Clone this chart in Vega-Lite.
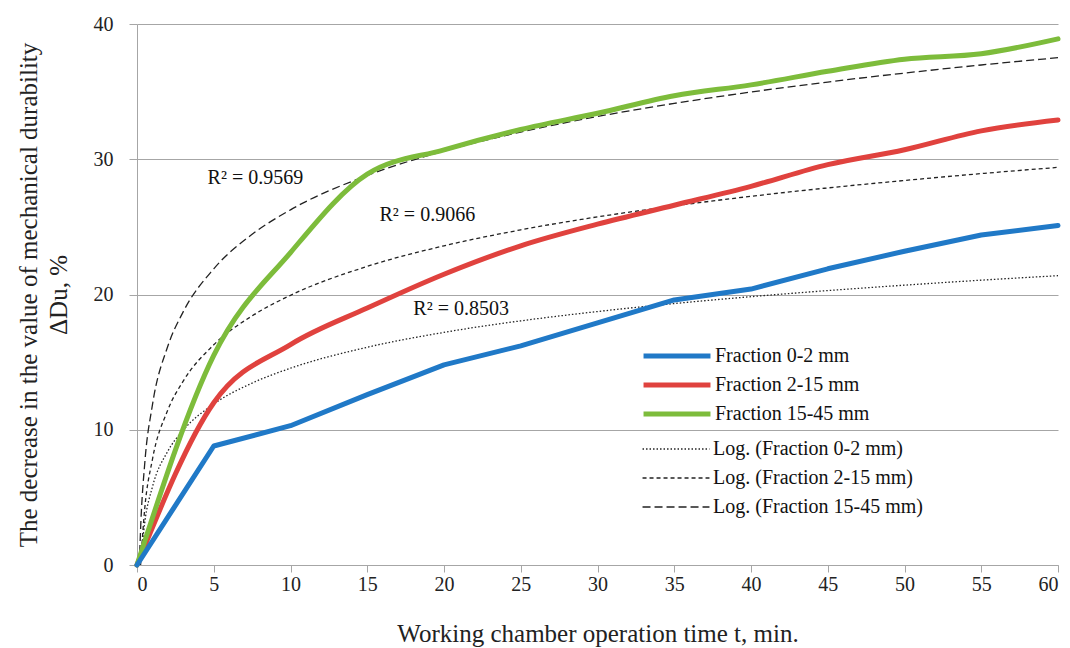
{
  "$schema": "https://vega.github.io/schema/vega-lite/v6.json",
  "autosize": {"type": "none"},
  "padding": {"left": 137, "top": 24, "right": 12, "bottom": 83},
  "width": 921,
  "height": 541,
  "background": "white",
  "config": {
    "font": "Liberation Serif",
    "view": {"stroke": null},
    "axis": {"labelFont": "Liberation Serif", "titleFont": "Liberation Serif", "labelFontSize": 20, "titleFontSize": 25, "titleFontWeight": "normal", "labelColor": "#222", "titleColor": "#222", "domainColor": "#a6a6a6", "tickColor": "#a6a6a6", "gridColor": "#a6a6a6"},
    "legend": {"labelFont": "Liberation Serif", "labelFontSize": 20, "labelColor": "#111", "labelLimit": 400}
  },
  "datasets": {
    "main": [
      {"t": 0, "v": 0, "s": "Fraction 0-2 mm"},
      {"t": 5, "v": 8.8, "s": "Fraction 0-2 mm"},
      {"t": 10, "v": 10.3, "s": "Fraction 0-2 mm"},
      {"t": 15, "v": 12.6, "s": "Fraction 0-2 mm"},
      {"t": 20, "v": 14.8, "s": "Fraction 0-2 mm"},
      {"t": 25, "v": 16.2, "s": "Fraction 0-2 mm"},
      {"t": 30, "v": 17.9, "s": "Fraction 0-2 mm"},
      {"t": 35, "v": 19.6, "s": "Fraction 0-2 mm"},
      {"t": 40, "v": 20.4, "s": "Fraction 0-2 mm"},
      {"t": 45, "v": 21.9, "s": "Fraction 0-2 mm"},
      {"t": 50, "v": 23.2, "s": "Fraction 0-2 mm"},
      {"t": 55, "v": 24.4, "s": "Fraction 0-2 mm"},
      {"t": 60, "v": 25.1, "s": "Fraction 0-2 mm"},
      {"t": 0, "v": 0, "s": "Fraction 2-15 mm"},
      {"t": 5, "v": 12.0, "s": "Fraction 2-15 mm"},
      {"t": 10, "v": 16.3, "s": "Fraction 2-15 mm"},
      {"t": 15, "v": 19.0, "s": "Fraction 2-15 mm"},
      {"t": 20, "v": 21.5, "s": "Fraction 2-15 mm"},
      {"t": 25, "v": 23.6, "s": "Fraction 2-15 mm"},
      {"t": 30, "v": 25.2, "s": "Fraction 2-15 mm"},
      {"t": 35, "v": 26.6, "s": "Fraction 2-15 mm"},
      {"t": 40, "v": 28.0, "s": "Fraction 2-15 mm"},
      {"t": 45, "v": 29.6, "s": "Fraction 2-15 mm"},
      {"t": 50, "v": 30.7, "s": "Fraction 2-15 mm"},
      {"t": 55, "v": 32.1, "s": "Fraction 2-15 mm"},
      {"t": 60, "v": 32.9, "s": "Fraction 2-15 mm"},
      {"t": 0, "v": 0, "s": "Fraction 15-45 mm"},
      {"t": 5, "v": 15.5, "s": "Fraction 15-45 mm"},
      {"t": 10, "v": 23.1, "s": "Fraction 15-45 mm"},
      {"t": 15, "v": 28.9, "s": "Fraction 15-45 mm"},
      {"t": 20, "v": 30.7, "s": "Fraction 15-45 mm"},
      {"t": 25, "v": 32.2, "s": "Fraction 15-45 mm"},
      {"t": 30, "v": 33.4, "s": "Fraction 15-45 mm"},
      {"t": 35, "v": 34.7, "s": "Fraction 15-45 mm"},
      {"t": 40, "v": 35.5, "s": "Fraction 15-45 mm"},
      {"t": 45, "v": 36.5, "s": "Fraction 15-45 mm"},
      {"t": 50, "v": 37.4, "s": "Fraction 15-45 mm"},
      {"t": 55, "v": 37.8, "s": "Fraction 15-45 mm"},
      {"t": 60, "v": 38.9, "s": "Fraction 15-45 mm"}
    ],
    "trend": [
      {"t": 0.22, "v": 0, "s": "Log. (Fraction 0-2 mm)"},
      {"t": 0.5, "v": 3.1, "s": "Log. (Fraction 0-2 mm)"},
      {"t": 1, "v": 5.75, "s": "Log. (Fraction 0-2 mm)"},
      {"t": 2, "v": 8.4, "s": "Log. (Fraction 0-2 mm)"},
      {"t": 3, "v": 9.95, "s": "Log. (Fraction 0-2 mm)"},
      {"t": 5, "v": 11.9, "s": "Log. (Fraction 0-2 mm)"},
      {"t": 7.5, "v": 13.45, "s": "Log. (Fraction 0-2 mm)"},
      {"t": 10, "v": 14.55, "s": "Log. (Fraction 0-2 mm)"},
      {"t": 15, "v": 16.1, "s": "Log. (Fraction 0-2 mm)"},
      {"t": 20, "v": 17.2, "s": "Log. (Fraction 0-2 mm)"},
      {"t": 25, "v": 18.05, "s": "Log. (Fraction 0-2 mm)"},
      {"t": 30, "v": 18.74, "s": "Log. (Fraction 0-2 mm)"},
      {"t": 35, "v": 19.33, "s": "Log. (Fraction 0-2 mm)"},
      {"t": 40, "v": 19.84, "s": "Log. (Fraction 0-2 mm)"},
      {"t": 45, "v": 20.29, "s": "Log. (Fraction 0-2 mm)"},
      {"t": 50, "v": 20.69, "s": "Log. (Fraction 0-2 mm)"},
      {"t": 55, "v": 21.06, "s": "Log. (Fraction 0-2 mm)"},
      {"t": 60, "v": 21.39, "s": "Log. (Fraction 0-2 mm)"},
      {"t": 0.23, "v": 0, "s": "Log. (Fraction 2-15 mm)"},
      {"t": 0.5, "v": 4.12, "s": "Log. (Fraction 2-15 mm)"},
      {"t": 1, "v": 7.78, "s": "Log. (Fraction 2-15 mm)"},
      {"t": 2, "v": 11.44, "s": "Log. (Fraction 2-15 mm)"},
      {"t": 3, "v": 13.58, "s": "Log. (Fraction 2-15 mm)"},
      {"t": 5, "v": 16.28, "s": "Log. (Fraction 2-15 mm)"},
      {"t": 7.5, "v": 18.42, "s": "Log. (Fraction 2-15 mm)"},
      {"t": 10, "v": 19.94, "s": "Log. (Fraction 2-15 mm)"},
      {"t": 15, "v": 22.08, "s": "Log. (Fraction 2-15 mm)"},
      {"t": 20, "v": 23.6, "s": "Log. (Fraction 2-15 mm)"},
      {"t": 25, "v": 24.78, "s": "Log. (Fraction 2-15 mm)"},
      {"t": 30, "v": 25.74, "s": "Log. (Fraction 2-15 mm)"},
      {"t": 35, "v": 26.55, "s": "Log. (Fraction 2-15 mm)"},
      {"t": 40, "v": 27.26, "s": "Log. (Fraction 2-15 mm)"},
      {"t": 45, "v": 27.88, "s": "Log. (Fraction 2-15 mm)"},
      {"t": 50, "v": 28.43, "s": "Log. (Fraction 2-15 mm)"},
      {"t": 55, "v": 28.94, "s": "Log. (Fraction 2-15 mm)"},
      {"t": 60, "v": 29.4, "s": "Log. (Fraction 2-15 mm)"},
      {"t": 0.15, "v": 0, "s": "Log. (Fraction 15-45 mm)"},
      {"t": 0.25, "v": 3.1, "s": "Log. (Fraction 15-45 mm)"},
      {"t": 0.5, "v": 7.45, "s": "Log. (Fraction 15-45 mm)"},
      {"t": 1, "v": 11.8, "s": "Log. (Fraction 15-45 mm)"},
      {"t": 2, "v": 16.15, "s": "Log. (Fraction 15-45 mm)"},
      {"t": 3, "v": 18.7, "s": "Log. (Fraction 15-45 mm)"},
      {"t": 5, "v": 21.9, "s": "Log. (Fraction 15-45 mm)"},
      {"t": 7.5, "v": 24.45, "s": "Log. (Fraction 15-45 mm)"},
      {"t": 10, "v": 26.26, "s": "Log. (Fraction 15-45 mm)"},
      {"t": 15, "v": 28.8, "s": "Log. (Fraction 15-45 mm)"},
      {"t": 20, "v": 30.61, "s": "Log. (Fraction 15-45 mm)"},
      {"t": 25, "v": 32.01, "s": "Log. (Fraction 15-45 mm)"},
      {"t": 30, "v": 33.16, "s": "Log. (Fraction 15-45 mm)"},
      {"t": 35, "v": 34.13, "s": "Log. (Fraction 15-45 mm)"},
      {"t": 40, "v": 34.97, "s": "Log. (Fraction 15-45 mm)"},
      {"t": 45, "v": 35.71, "s": "Log. (Fraction 15-45 mm)"},
      {"t": 50, "v": 36.37, "s": "Log. (Fraction 15-45 mm)"},
      {"t": 55, "v": 36.97, "s": "Log. (Fraction 15-45 mm)"},
      {"t": 60, "v": 37.51, "s": "Log. (Fraction 15-45 mm)"}
    ],
    "labels": [
      {"t": 4.6, "v": 28.6, "label": "R² = 0.9569"},
      {"t": 15.8, "v": 25.9, "label": "R² = 0.9066"},
      {"t": 18.0, "v": 18.9, "label": "R² = 0.8503"}
    ]
  },
  "layer": [
    {
      "data": {"name": "trend"},
      "mark": {"type": "line", "color": "#222", "strokeWidth": 1.3, "interpolate": "monotone"},
      "encoding": {
        "x": {"field": "t", "type": "quantitative", "scale": {"domain": [0, 60], "nice": false},
          "axis": {"title": "Working chamber operation time t, min.", "values": [0,5,10,15,20,25,30,35,40,45,50,55,60], "grid": false, "tickSize": 7, "labelPadding": 2, "titlePadding": 27}},
        "y": {"field": "v", "type": "quantitative", "scale": {"domain": [0, 40], "nice": false},
          "axis": {"title": ["The decrease in the value of mechanical durability", "ΔDu, %"], "values": [0,10,20,30,40], "grid": true, "tickSize": 8, "labelPadding": 16, "titlePadding": 22, "titleLineHeight": 30}},
        "strokeDash": {"field": "s", "type": "nominal",
          "scale": {"domain": ["Log. (Fraction 0-2 mm)", "Log. (Fraction 2-15 mm)", "Log. (Fraction 15-45 mm)"], "range": [[1.5, 2], [4, 3], [8, 4]]},
          "legend": {"title": null, "orient": "none", "legendX": 529, "legendY": 415, "symbolType": "M-4,0H4", "symbolSize": 280, "symbolStrokeColor": "#222", "symbolStrokeWidth": 1.3, "labelOffset": 27, "rowPadding": 9}}
      }
    },
    {
      "data": {"name": "main"},
      "transform": [{"filter": "datum.s !== 'Fraction 0-2 mm'"}],
      "mark": {"type": "line", "strokeWidth": 5, "interpolate": "monotone", "strokeCap": "round"},
      "encoding": {
        "x": {"field": "t", "type": "quantitative"},
        "y": {"field": "v", "type": "quantitative"},
        "color": {"field": "s", "type": "nominal",
          "scale": {"domain": ["Fraction 0-2 mm", "Fraction 2-15 mm", "Fraction 15-45 mm"], "range": ["#2079c7", "#e0423e", "#7dbc3b"]},
          "legend": {"title": null, "orient": "none", "legendX": 529, "legendY": 321, "symbolType": "M-4,0H4", "symbolSize": 280, "symbolStrokeWidth": 5, "labelOffset": 27, "rowPadding": 8}}
      }
    },
    {
      "data": {"name": "main"},
      "transform": [{"filter": "datum.s === 'Fraction 0-2 mm'"}],
      "mark": {"type": "line", "strokeWidth": 5, "interpolate": "linear", "strokeCap": "round", "strokeJoin": "round"},
      "encoding": {
        "x": {"field": "t", "type": "quantitative"},
        "y": {"field": "v", "type": "quantitative"},
        "color": {"field": "s", "type": "nominal"}
      }
    },
    {
      "data": {"name": "labels"},
      "mark": {"type": "text", "align": "left", "baseline": "middle", "fontSize": 20, "font": "Liberation Serif", "color": "#111"},
      "encoding": {
        "x": {"field": "t", "type": "quantitative"},
        "y": {"field": "v", "type": "quantitative"},
        "text": {"field": "label"}
      }
    }
  ]
}
